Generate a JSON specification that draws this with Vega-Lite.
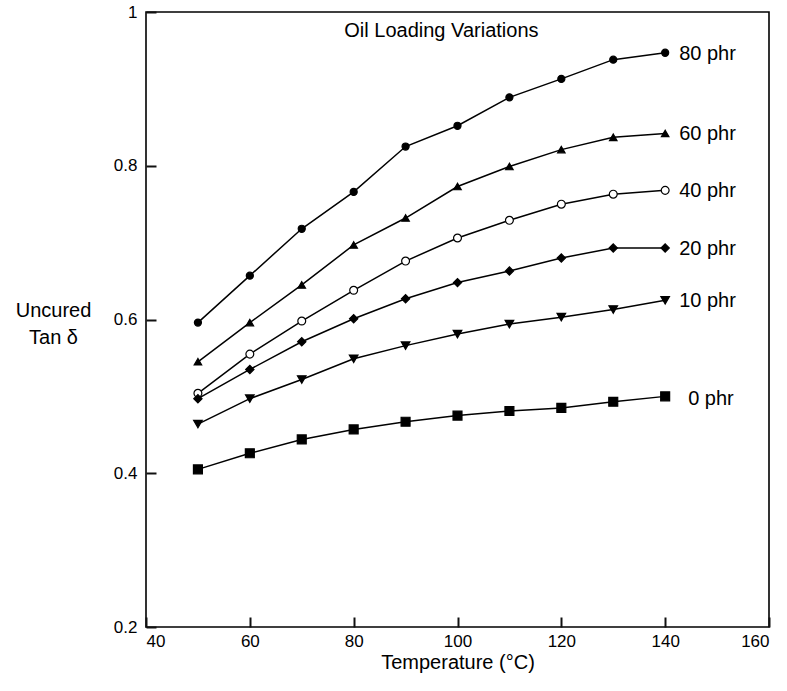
{
  "$schema": "https://vega.github.io/schema/vega-lite/v6.json",
  "autosize": "none",
  "width": 623,
  "height": 615,
  "padding": {"left": 146, "top": 12, "right": 18, "bottom": 64},
  "background": "white",
  "config": {
    "font": "Liberation Sans",
    "view": {"stroke": "black", "strokeWidth": 1.6},
    "axis": {
      "grid": false,
      "labelColor": "black",
      "labelFontSize": 17,
      "titleColor": "black",
      "titleFontSize": 20,
      "titleFontWeight": "normal"
    }
  },
  "data": {
    "values": [
      {"series": "80 phr", "temp": 50, "tan": 0.596}, {"series": "80 phr", "temp": 60, "tan": 0.657},
      {"series": "80 phr", "temp": 70, "tan": 0.718}, {"series": "80 phr", "temp": 80, "tan": 0.766},
      {"series": "80 phr", "temp": 90, "tan": 0.825}, {"series": "80 phr", "temp": 100, "tan": 0.852},
      {"series": "80 phr", "temp": 110, "tan": 0.889}, {"series": "80 phr", "temp": 120, "tan": 0.913},
      {"series": "80 phr", "temp": 130, "tan": 0.938}, {"series": "80 phr", "temp": 140, "tan": 0.947},

      {"series": "60 phr", "temp": 50, "tan": 0.545}, {"series": "60 phr", "temp": 60, "tan": 0.596},
      {"series": "60 phr", "temp": 70, "tan": 0.645}, {"series": "60 phr", "temp": 80, "tan": 0.697},
      {"series": "60 phr", "temp": 90, "tan": 0.732}, {"series": "60 phr", "temp": 100, "tan": 0.773},
      {"series": "60 phr", "temp": 110, "tan": 0.799}, {"series": "60 phr", "temp": 120, "tan": 0.821},
      {"series": "60 phr", "temp": 130, "tan": 0.837}, {"series": "60 phr", "temp": 140, "tan": 0.842},

      {"series": "40 phr", "temp": 50, "tan": 0.504}, {"series": "40 phr", "temp": 60, "tan": 0.555},
      {"series": "40 phr", "temp": 70, "tan": 0.598}, {"series": "40 phr", "temp": 80, "tan": 0.638},
      {"series": "40 phr", "temp": 90, "tan": 0.676}, {"series": "40 phr", "temp": 100, "tan": 0.706},
      {"series": "40 phr", "temp": 110, "tan": 0.729}, {"series": "40 phr", "temp": 120, "tan": 0.750},
      {"series": "40 phr", "temp": 130, "tan": 0.763}, {"series": "40 phr", "temp": 140, "tan": 0.768},

      {"series": "20 phr", "temp": 50, "tan": 0.497}, {"series": "20 phr", "temp": 60, "tan": 0.535},
      {"series": "20 phr", "temp": 70, "tan": 0.571}, {"series": "20 phr", "temp": 80, "tan": 0.601},
      {"series": "20 phr", "temp": 90, "tan": 0.627}, {"series": "20 phr", "temp": 100, "tan": 0.648},
      {"series": "20 phr", "temp": 110, "tan": 0.663}, {"series": "20 phr", "temp": 120, "tan": 0.680},
      {"series": "20 phr", "temp": 130, "tan": 0.693}, {"series": "20 phr", "temp": 140, "tan": 0.693},

      {"series": "10 phr", "temp": 50, "tan": 0.464}, {"series": "10 phr", "temp": 60, "tan": 0.497},
      {"series": "10 phr", "temp": 70, "tan": 0.522}, {"series": "10 phr", "temp": 80, "tan": 0.549},
      {"series": "10 phr", "temp": 90, "tan": 0.566}, {"series": "10 phr", "temp": 100, "tan": 0.581},
      {"series": "10 phr", "temp": 110, "tan": 0.594}, {"series": "10 phr", "temp": 120, "tan": 0.603},
      {"series": "10 phr", "temp": 130, "tan": 0.613}, {"series": "10 phr", "temp": 140, "tan": 0.625},

      {"series": "0 phr", "temp": 50, "tan": 0.405}, {"series": "0 phr", "temp": 60, "tan": 0.426},
      {"series": "0 phr", "temp": 70, "tan": 0.444}, {"series": "0 phr", "temp": 80, "tan": 0.457},
      {"series": "0 phr", "temp": 90, "tan": 0.467}, {"series": "0 phr", "temp": 100, "tan": 0.475},
      {"series": "0 phr", "temp": 110, "tan": 0.481}, {"series": "0 phr", "temp": 120, "tan": 0.485},
      {"series": "0 phr", "temp": 130, "tan": 0.493}, {"series": "0 phr", "temp": 140, "tan": 0.500}
    ]
  },
  "encoding": {
    "x": {
      "field": "temp",
      "type": "quantitative",
      "scale": {"domain": [40, 160], "nice": false, "zero": false},
      "axis": {
        "values": [40, 60, 80, 100, 120, 140, 160],
        "domain": false,
        "tickColor": "#111111",
        "tickWidth": 2,
        "tickSize": 10,
        "offset": -10,
        "zindex": 2,
        "labelPadding": 6,
        "title": "Temperature (°C)",
        "titleBaseline": "middle",
        "titleY": 45
      }
    },
    "y": {
      "field": "tan",
      "type": "quantitative",
      "scale": {"domain": [0.2, 1], "nice": false, "zero": false},
      "axis": {
        "values": [0.2, 0.4, 0.6, 0.8, 1],
        "format": "~g",
        "domain": false,
        "tickColor": "#111111",
        "tickWidth": 2,
        "tickSize": 10,
        "offset": -10,
        "zindex": 2,
        "labelPadding": 9,
        "title": ["Uncured", "Tan δ"],
        "titleAngle": 0,
        "titleAlign": "center",
        "titleBaseline": "middle",
        "titleX": -103,
        "titleY": 298,
        "titleLineHeight": 27
      }
    }
  },
  "layer": [
    {
      "data": {"values": [{"t": 60}, {"t": 80}, {"t": 100}, {"t": 120}, {"t": 140}]},
      "mark": {"type": "rule", "color": "black", "strokeWidth": 1.6},
      "encoding": {
        "x": {"field": "t", "type": "quantitative"},
        "y": {"datum": 0.2, "type": "quantitative"},
        "y2": {"datum": 0.2117}
      }
    },
    {
      "data": {"values": [{"v": 0.4}, {"v": 0.6}, {"v": 0.8}]},
      "mark": {"type": "rule", "color": "black", "strokeWidth": 1.6},
      "encoding": {
        "y": {"field": "v", "type": "quantitative"},
        "x": {"datum": 40, "type": "quantitative"},
        "x2": {"datum": 41.7}
      }
    },
    {
      "mark": {"type": "line", "color": "black", "strokeWidth": 1.5},
      "encoding": {"detail": {"field": "series"}}
    },
    {
      "mark": {"type": "point", "filled": false, "stroke": "black", "strokeWidth": 1.2, "opacity": 1},
      "encoding": {
        "shape": {
          "field": "series",
          "scale": {
            "domain": ["80 phr", "60 phr", "40 phr", "20 phr", "10 phr", "0 phr"],
            "range": ["circle", "triangle-up", "circle", "diamond", "triangle-down", "square"]
          },
          "legend": null
        },
        "fill": {
          "field": "series",
          "scale": {
            "domain": ["80 phr", "60 phr", "40 phr", "20 phr", "10 phr", "0 phr"],
            "range": ["black", "black", "white", "black", "black", "black"]
          },
          "legend": null
        },
        "size": {
          "field": "series",
          "scale": {
            "domain": ["80 phr", "60 phr", "40 phr", "20 phr", "10 phr", "0 phr"],
            "range": [50, 80, 120, 60, 80, 110]
          },
          "legend": null
        }
      }
    },
    {
      "transform": [{"filter": "datum.temp == 140 && datum.series != '0 phr'"}],
      "mark": {"type": "text", "align": "left", "baseline": "middle", "dx": 14, "dy": 1, "fontSize": 20, "color": "black"},
      "encoding": {"text": {"field": "series"}}
    },
    {
      "transform": [{"filter": "datum.temp == 140 && datum.series == '0 phr'"}],
      "mark": {"type": "text", "align": "left", "baseline": "middle", "dx": 23, "dy": 3, "fontSize": 20, "color": "black"},
      "encoding": {"text": {"field": "series"}}
    },
    {
      "data": {"values": [{"label": "Oil Loading Variations", "temp": 96.9, "tan": 0.975}]},
      "mark": {"type": "text", "align": "center", "baseline": "middle", "fontSize": 20, "color": "black"},
      "encoding": {"text": {"field": "label"}}
    }
  ]
}
